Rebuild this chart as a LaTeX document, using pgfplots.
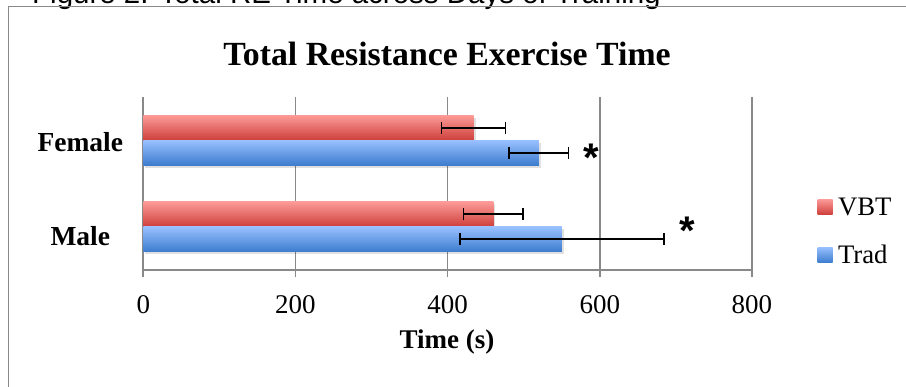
\documentclass[border=0pt]{standalone}
\usepackage{pgfplots}
\pgfplotsset{compat=1.18}
\usepackage{fontspec}
\setmainfont{Liberation Serif}
\newfontfamily\capfont{Liberation Sans}
\definecolor{redtop}{RGB}{252,155,152}
\definecolor{redbot}{RGB}{206,62,58}
\definecolor{bluetop}{RGB}{153,192,255}
\definecolor{bluebot}{RGB}{60,124,206}
\definecolor{gridgray}{RGB}{137,137,137}
\pgfplotsset{
  errs/.style={/pgfplots/error bars/x dir=both, /pgfplots/error bars/x explicit,
    /pgfplots/error bars/error mark=|,
    /pgfplots/error bars/error bar style={line width=1.6pt, black},
    /pgfplots/error bars/error mark options={line width=1.6pt, mark size=6pt, black}},
  vbt/.style={xbar, bar shift=0.1445, draw=none, top color=redtop, bottom color=redbot, errs},
  trad/.style={xbar, bar shift=-0.1445, draw=none, top color=bluetop, bottom color=bluebot, errs},
  shad/.style={xbar, fill=black, opacity=0.12, draw=none, forget plot, xshift=2pt, yshift=-2.5pt},
}
\begin{document}
\begin{tikzpicture}
\useasboundingbox (0,0) rectangle (906pt,-387pt);
\clip (0,0) rectangle (906pt,-387pt);
\fill[white] (0,0) rectangle (906pt,-387pt);
\node[anchor=base west, inner sep=0pt, font=\capfont\fontsize{29.5}{32}\selectfont] at (32pt,-4pt) {Figure 2: Total RE Time across Days of Training};
\draw[line width=1.6pt, color=gridgray] (8.3pt,-400pt) -- (8.3pt,-6.7pt) -- (920pt,-6.7pt);
\begin{axis}[
  at={(143.3pt,-270pt)}, anchor=south west,
  scale only axis, width=608.7pt, height=173pt,
  xbar, xmin=0, xmax=800, ymin=-0.5, ymax=1.5,
  xtick={0,200,400,600,800},
  ytick={-0.219,0.8676}, yticklabels={Male,Female},
  axis x line*=bottom, axis y line*=left,
  axis line style={line width=1.6pt, color=gridgray, -},
  xmajorgrids, grid style={line width=1.6pt, color=gridgray},
  tick align=outside, major tick length=7pt,
  xtick style={line width=1.6pt, color=gridgray},
  ytick style={draw=none},
  /pgf/number format/assume math mode=true,
  xticklabel style={font=\fontsize{27}{30}\selectfont, anchor=base, yshift=-37pt},
  yticklabel style={font=\bfseries\fontsize{27.5}{30}\selectfont, anchor=base, xshift=-56pt},
  xlabel={Time (s)},
  xlabel style={font=\bfseries\fontsize{27}{30}\selectfont, at={(axis description cs:0.499,-0.451)}, anchor=base},
  title={Total Resistance Exercise Time},
  every axis title shift=0pt,
  title style={font=\bfseries\fontsize{33.8}{36}\selectfont, at={(axis description cs:0.499,1.183)}, anchor=base, yshift=0pt},
  bar width=0.289,
  legend style={at={(axis description cs:1.1073,0.420)}, anchor=north west, draw=none, fill=none,
    inner sep=0pt, font=\fontsize{26.7}{30}\selectfont, row sep=28.4pt, column sep=5.5pt,
    nodes={inner sep=0pt}},
  legend cell align=left,
  legend image code/.code={\path[#1, draw=none] (0pt,-7.55pt) rectangle (15pt,7.85pt);},
  clip=false,
]
% shadows
\addplot[shad, bar shift=0.1445] coordinates {(460,0)};
\addplot[shad, bar shift=0.1445] coordinates {(434,1)};
\addplot[shad, bar shift=-0.1445] coordinates {(550,0)};
\addplot[shad, bar shift=-0.1445] coordinates {(520,1)};
% bars
\addplot[vbt] coordinates {(460,0) +- (39,0)};
\addlegendentry{VBT}
\addplot[vbt, forget plot] coordinates {(434,1) +- (42,0)};
\addplot[trad] coordinates {(550,0) +- (134,0)};
\addlegendentry{Trad}
\addplot[trad, forget plot] coordinates {(520,1) +- (39,0)};
\node[font=\capfont\bfseries\fontsize{40}{40}\selectfont, anchor=base, yshift=-18.6pt, inner sep=0pt] at (axis cs:589.1,0.849) {*};
\node[font=\capfont\bfseries\fontsize{40}{40}\selectfont, anchor=base, yshift=-18.6pt, inner sep=0pt] at (axis cs:715.2,0.0087) {*};
\end{axis}
\end{tikzpicture}
\end{document}
